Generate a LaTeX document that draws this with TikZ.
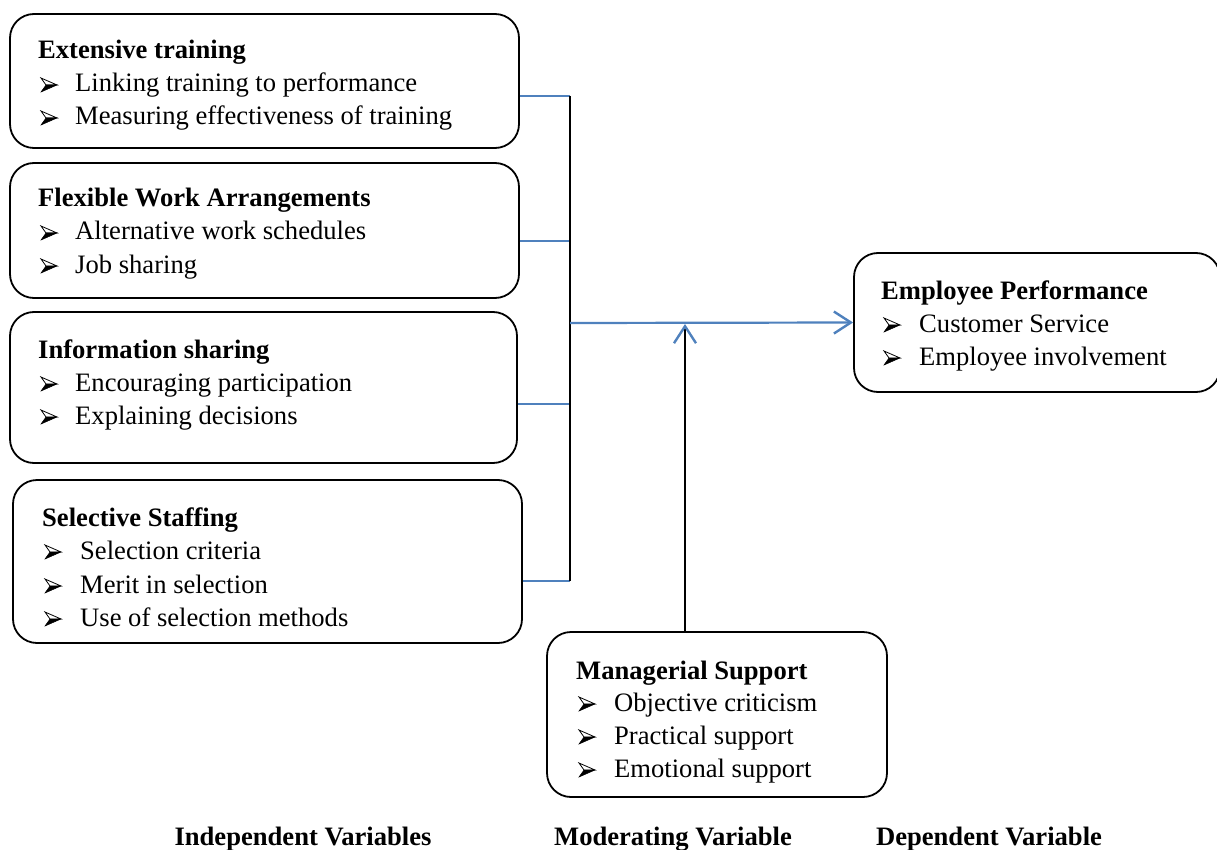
\documentclass[tikz,border=0pt]{standalone}
\usepackage{fontspec}
\setmainfont{Liberation Serif}
\usetikzlibrary{arrows.meta}
\definecolor{linkblue}{HTML}{4F81BD}
\tikzset{
  box/.style={draw, line width=1.8pt, rounded corners=24pt, inner sep=0pt},
  ttl/.style={anchor=base west, inner sep=0pt, font=\fontsize{26.6}{32}\selectfont\bfseries},
  itm/.style={anchor=base west, inner sep=0pt, font=\fontsize{26.6}{32}\selectfont},
  bulup/.style={draw=black, fill=white, line width=0.8pt, line join=miter},
  buldn/.style={fill=black, draw=black, line width=0.5pt, line join=miter},
  stub/.style={linkblue, line width=1.6pt},
  trunk/.style={black, line width=1.8pt},
  bluearrow/.style={linkblue, line width=2.2pt, -{Straight Barb[length=17pt,width=22pt,line width=2.4pt]}},
  uparrow/.style={black, line width=1.8pt, -{Straight Barb[length=17pt,width=22pt,line width=2.4pt,color=linkblue]}},
  foot/.style={anchor=base, inner sep=0pt, font=\fontsize{26.6}{32}\selectfont\bfseries},
}
\newcommand\bitem[5]{%
  \coordinate (#1b) at (#2,#4);
  \begin{scope}[shift={(#1b)}]
    \draw[bulup] (3,-14) -- (19,-7) -- (8,-7) -- cycle;
    \filldraw[buldn] (8,-7) -- (19,-7) -- (3,0) -- cycle;
  \end{scope}
  \node[itm] (#1) at (#3,#4) {#5};}
\begin{document}
\begin{tikzpicture}[x=1pt,y=-1pt]
\useasboundingbox (0,0) rectangle (1217,850);
\clip (0,0) rectangle (1217,850);
% boxes
\node[box, minimum width=509pt, minimum height=134pt] (b1) at (264.5,81) {};
\node[box, minimum width=509pt, minimum height=135pt] (b2) at (264.5,230.5) {};
\node[box, minimum width=507pt, minimum height=151pt] (b3) at (263.5,387.5) {};
\node[box, minimum width=509pt, minimum height=163pt] (b4) at (267.5,561.5) {};
\node[box, minimum width=366pt, minimum height=139pt] (b5) at (1037,322.5) {};
\node[box, minimum width=340pt, minimum height=165pt] (b6) at (717,714.5) {};
% box 1
\node[ttl] (t1) at (38,59) {Extensive training};
\bitem{i11}{38}{75}{92}{Linking training to performance}
\bitem{i12}{38}{75}{125}{Measuring effectiveness of training}
% box 2
\node[ttl] (t2) at (38,207) {Flexible Work Arrangements};
\bitem{i21}{38}{75}{240}{Alternative work schedules}
\bitem{i22}{38}{75}{273}{Job sharing}
% box 3
\node[ttl] (t3) at (38,358) {Information sharing};
\bitem{i31}{38}{75}{391}{Encouraging participation}
\bitem{i32}{38}{75}{424}{Explaining decisions}
% box 4
\node[ttl] (t4) at (42,526) {Selective Staffing};
\bitem{i41}{42}{80}{559}{Selection criteria}
\bitem{i42}{42}{80}{593}{Merit in selection}
\bitem{i43}{42}{80}{626}{Use of selection methods}
% box 5
\node[ttl] (t5) at (881,299) {Employee Performance};
\bitem{i51}{881}{919}{332}{Customer Service}
\bitem{i52}{881}{919}{365}{Employee involvement}
% box 6
\node[ttl] (t6) at (576,679) {Managerial Support};
\bitem{i61}{576}{614}{711}{Objective criticism}
\bitem{i62}{576}{614}{744}{Practical support}
\bitem{i63}{576}{614}{777}{Emotional support}
% footers
\node[foot] (f1) at (303,845) {Independent Variables};
\node[foot] (f2) at (673,845) {Moderating Variable};
\node[foot] (f3) at (989,845) {Dependent Variable};
% connectors
\coordinate (j1) at (570,96);
\coordinate (j2) at (570,241);
\coordinate (j3) at (570,404);
\coordinate (j4) at (570,581);
\coordinate (jm) at (570,323);
\coordinate (up) at (685,324);
\draw[stub] (b1.east |- j1) -- (j1);
\draw[stub] (b2.east |- j2) -- (j2);
\draw[stub] (b3.east |- j3) -- (j3);
\draw[stub] (b4.east |- j4) -- (j4);
\draw[trunk] (j1) -- (j4);
\draw[bluearrow] (jm) -- (b5.west);
\draw[uparrow] (b6.north -| up) -- (up);
\end{tikzpicture}
\end{document}
